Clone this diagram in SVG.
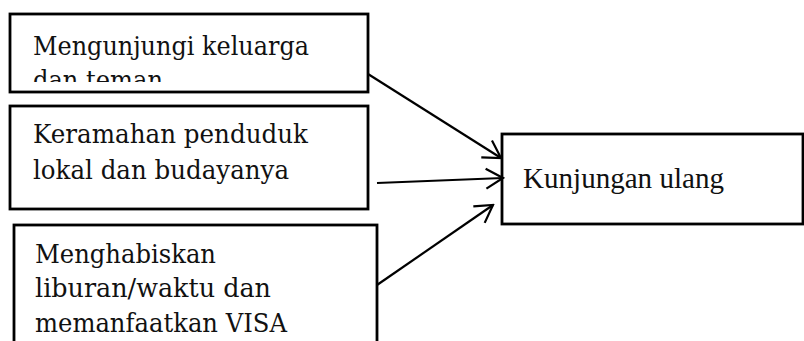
<svg xmlns="http://www.w3.org/2000/svg" width="804" height="341" viewBox="0 0 804 341">
  <style>
    .box { fill: #ffffff; stroke: #000000; stroke-width: 2.8; }
    .lbl { font-family: "DejaVu Serif", "Liberation Serif", serif; font-size: 26px; fill: #111111; }
    .tgt { font-family: "Liberation Serif", "Times New Roman", serif; font-size: 29px; fill: #111111; }
    .conn { stroke: #000000; stroke-width: 2.2; fill: none; marker-end: url(#arrow); }
  </style>
  <defs>
    <marker id="arrow" viewBox="-20 -12 22 24" markerWidth="22" markerHeight="24" refX="0" refY="0" orient="auto" markerUnits="userSpaceOnUse">
      <path d="M-17,-10 L0,0 L-17,10" fill="none" stroke="#000000" stroke-width="2.2"/>
    </marker>
    <clipPath id="clip1">
      <rect x="10" y="14" width="358" height="68"/>
    </clipPath>
  </defs>
  <rect width="804" height="341" fill="#ffffff"/>

  <g id="node-keluarga">
    <rect class="box" x="10" y="14" width="358" height="78"/>
    <g clip-path="url(#clip1)">
      <text class="lbl" x="33" y="55" textLength="276" lengthAdjust="spacingAndGlyphs">Mengunjungi keluarga</text>
      <text class="lbl" x="33" y="89" textLength="130" lengthAdjust="spacingAndGlyphs">dan teman</text>
    </g>
  </g>

  <g id="node-keramahan">
    <rect class="box" x="10" y="106" width="358" height="103"/>
    <text class="lbl" x="33" y="143" textLength="275" lengthAdjust="spacingAndGlyphs">Keramahan penduduk</text>
    <text class="lbl" x="33" y="179" textLength="256" lengthAdjust="spacingAndGlyphs">lokal dan budayanya</text>
  </g>

  <g id="node-liburan">
    <rect class="box" x="14" y="225" width="363" height="130"/>
    <text class="lbl" x="35" y="263" textLength="181" lengthAdjust="spacingAndGlyphs">Menghabiskan</text>
    <text class="lbl" x="35" y="297" textLength="236" lengthAdjust="spacingAndGlyphs">liburan/waktu dan</text>
    <text class="lbl" x="35" y="332" textLength="252" lengthAdjust="spacingAndGlyphs">memanfaatkan VISA</text>
  </g>

  <g id="node-kunjungan">
    <rect class="box" x="502" y="134" width="301" height="90"/>
    <text class="tgt" x="523" y="188" textLength="201" lengthAdjust="spacingAndGlyphs">Kunjungan ulang</text>
  </g>

  <g id="connectors">
    <line class="conn" x1="368" y1="74" x2="501" y2="158"/>
    <line class="conn" x1="377" y1="183" x2="503" y2="178"/>
    <line class="conn" x1="377" y1="285" x2="493" y2="205"/>
  </g>
</svg>
